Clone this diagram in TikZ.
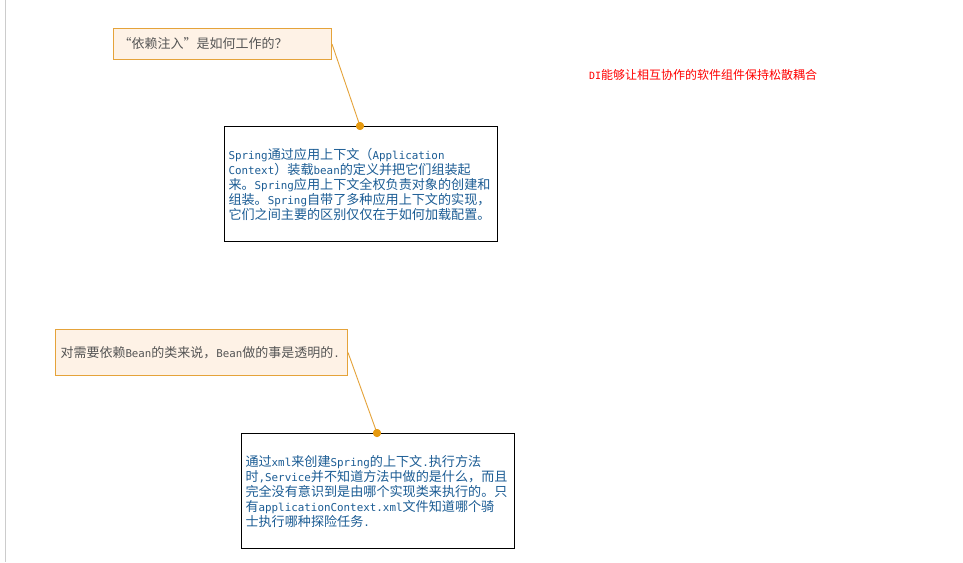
\documentclass[tikz,border=0pt]{standalone}
\usepackage{fontspec}
\setmainfont{Noto Sans CJK SC}
\newfontfamily\latfont[Scale=0.83]{DejaVu Sans Mono}
\newcommand\lat[1]{{\latfont #1}}
\definecolor{boxfill}{HTML}{FEF2E6}
\definecolor{boxline}{HTML}{E5A33A}
\definecolor{greytext}{HTML}{555555}
\definecolor{bluetext}{HTML}{1B5C94}
\definecolor{dotcol}{HTML}{E69A10}
\definecolor{sideline}{HTML}{CCCCCC}
\tikzset{
  topic/.style={draw=boxline, fill=boxfill, line width=1pt, text=greytext, anchor=north west, inner xsep=5pt, inner ysep=0pt, align=left},
  note/.style={draw=black, fill=white, line width=1pt, text=bluetext, anchor=north west, inner xsep=4pt, inner ysep=0pt, align=left, text width=265pt, minimum height=115pt, font=\fontsize{13.1}{15}\selectfont},
  conn/.style={draw=boxline, line width=0.9pt},
  dotmark/.style={circle, fill=dotcol, minimum size=8pt, inner sep=0pt},
  redlabel/.style={text=red, anchor=west, inner sep=0pt, font=\fontsize{12}{13}\selectfont}
}
\begin{document}
\begin{tikzpicture}[x=1pt, y=-1pt]
\useasboundingbox[fill=white] (0,0) rectangle (963,562);
\draw[sideline, line width=1pt] (5.5,0) -- (5.5,562);
% topic boxes
\node[topic, minimum width=218pt, minimum height=31pt, text width=208pt, font=\fontsize{13}{14}\selectfont] (b1) at (113,28) {“依赖注入”是如何工作的？};
\node[topic, minimum width=292pt, minimum height=46pt, text width=282pt, font=\fontsize{13}{15}\selectfont] (b3) at (55,329) {对需要依赖\lat{Bean}的类来说，\lat{Bean}做的事是透明的\lat{.}};
% note boxes
\node[note] (b2) at (224,126) {\lat{Spring}通过应用上下文（\lat{Application}\\
\lat{Context}）装载\lat{bean}的定义并把它们组装起\\
来。\lat{Spring}应用上下文全权负责对象的创建和\\
组装。\lat{Spring}自带了多种应用上下文的实现，\\
它们之间主要的区别仅仅在于如何加载配置。};
\node[note] (b4) at (241,433) {通过\lat{xml}来创建\lat{Spring}的上下文\lat{.}执行方法\\
时\lat{,Service}并不知道方法中做的是什么，而且\\
完全没有意识到是由哪个实现类来执行的。只\\
有\lat{applicationContext.xml}文件知道哪个骑\\
士执行哪种探险任务\lat{.}};
% connectors
\node[dotmark] (d1) at (360,126) {};
\node[dotmark] (d2) at (377,433) {};
\draw[conn] (b1.east) -- (d1.center);
\draw[conn] (b3.east) -- (d2.center);
\node[dotmark] at (360,126) {};
\node[dotmark] at (377,433) {};
% red label
\node[redlabel] (r) at (589,75) {\lat{DI}能够让相互协作的软件组件保持松散耦合};
\end{tikzpicture}
\end{document}
